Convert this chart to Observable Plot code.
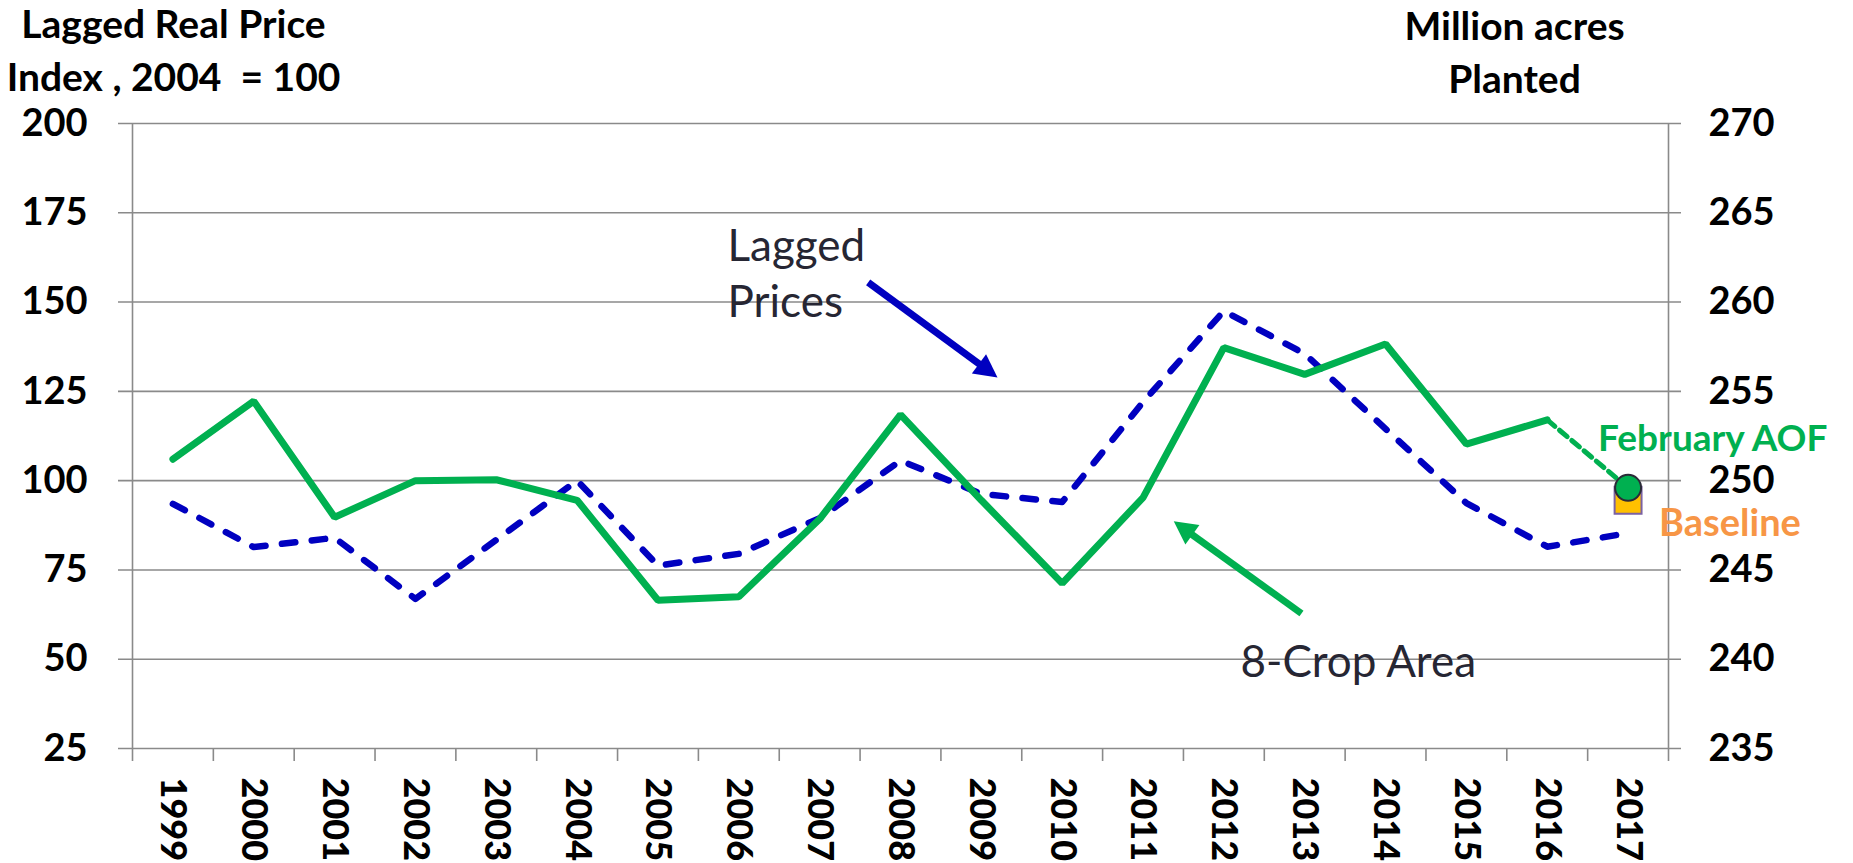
<!DOCTYPE html>
<html>
<head>
<meta charset="utf-8">
<script src="https://cdn.jsdelivr.net/npm/d3@7"></script>
<script src="https://cdn.jsdelivr.net/npm/@observablehq/plot@0.6"></script>
<style>
  html, body { margin: 0; padding: 0; background: #fff; }
  #chart svg { display: block; }
</style>
</head>
<body>
<div id="chart"></div>
<script>
// ---- data ----
const years = [1999, 2000, 2001, 2002, 2003, 2004, 2005, 2006, 2007, 2008, 2009, 2010, 2011, 2012, 2013, 2014, 2015, 2016, 2017];
// Lagged real price index (2004 = 100), left axis
const laggedPrice = [93.5, 81.4, 84.0, 66.9, 83.4, 100.0, 76.2, 79.5, 89.5, 105.6, 96.3, 94.0, 122.0, 147.5, 135.5, 114.5, 93.7, 81.5, 85.3];
// 8-crop planted area, million acres, right axis (1999-2016)
const cropAreaYears = [1999, 2000, 2001, 2002, 2003, 2004, 2005, 2006, 2007, 2008, 2009, 2010, 2011, 2012, 2013, 2014, 2015, 2016];
const cropArea = [251.2, 254.45, 247.95, 250.0, 250.05, 248.9, 243.3, 243.5, 247.85, 253.7, 248.9, 244.25, 249.05, 257.45, 255.95, 257.65, 252.05, 253.4];
// 2017 points
const outlookYear = 2017;
const februaryAOF = 249.6;
const baselineArea = 248.9;
// tick labels
const leftTicks = [25, 50, 75, 100, 125, 150, 175, 200];
const rightTicks = [235, 240, 245, 250, 255, 260, 265, 270];
const leftTitle = "Lagged Real Price\nIndex , 2004  = 100";
const rightTitle = "Million acres\nPlanted";

// ---- layout ----
const W = 1853, H = 863;
const mL = 132, mR = 185, mT = 123, mB = 115;
const xDomain = [years[0] - 0.5, years[years.length - 1] + 0.5];
const leftDomain = [leftTicks[0], leftTicks[leftTicks.length - 1]];
const rightDomain = [rightTicks[0], rightTicks[rightTicks.length - 1]];
const k = (leftDomain[1] - leftDomain[0]) / (rightDomain[1] - rightDomain[0]);
const toLeft = v => leftDomain[0] + (v - rightDomain[0]) * k;
const fromLeft = v => rightDomain[0] + (v - leftDomain[0]) / k;

const priceRows = years.map((year, i) => ({year, value: laggedPrice[i]}));
const areaRows = cropAreaYears.map((year, i) => ({year, value: cropArea[i]}));
const lastArea = areaRows[areaRows.length - 1];
const aofRows = [lastArea, {year: outlookYear, value: februaryAOF}];
const boundaries = years.map(y => y - 0.5).concat([years[years.length - 1] + 0.5]);

const GREEN = "#00B050", BLUE = "#0000C0", GRID = "#8a8a8a", ANNO = "#262633";

// arrows (annotation positions in data units: x = year, y = left axis)
const xS = Plot.scale({x: {domain: xDomain, range: [mL, W - mR]}});
const yS = Plot.scale({y: {domain: leftDomain, range: [H - mB, mT]}});
function arrowParts(a) {
  const px1 = xS.apply(a.x1), py1 = yS.apply(a.y1), px2 = xS.apply(a.x2), py2 = yS.apply(a.y2);
  const len = Math.hypot(px2 - px1, py2 - py1);
  const f = 14 / len;
  return {
    shaft: [{x1: a.x1, y1: a.y1, x2: a.x2 + (a.x1 - a.x2) * f, y2: a.y2 + (a.y1 - a.y2) * f}],
    head: [{x: a.x2, y: a.y2, angle: Math.atan2(px2 - px1, -(py2 - py1)) * 180 / Math.PI}]
  };
}
const priceArrow = arrowParts({x1: 2007.60, y1: 155.5, x2: 2009.20, y2: 128.9});
const areaArrow = arrowParts({x1: 2012.96, y1: 62.8, x2: 2011.38, y2: 88.6});
const triangleHead = {
  draw(ctx) { ctx.moveTo(0, 0); ctx.lineTo(12, 23); ctx.lineTo(-12, 23); ctx.closePath(); }
};

const chart = Plot.plot({
  width: W, height: H,
  marginLeft: mL, marginRight: mR, marginTop: mT, marginBottom: mB,
  style: {fontFamily: "Lato, 'Open Sans', sans-serif", background: "#fff", overflow: "visible"},
  x: {domain: xDomain},
  y: {domain: leftDomain},
  marks: [
    // gridlines (with outward tick extensions on both sides)
    Plot.ruleY(leftTicks, {stroke: GRID, strokeWidth: 1.6, insetLeft: -14, insetRight: -13}),
    // left & right axis lines
    Plot.ruleX([xDomain[0], xDomain[1]], {stroke: GRID, strokeWidth: 1.6}),
    // category boundary tick marks
    Plot.ruleX(boundaries, {x: d => d, y1: leftDomain[0], y2: leftDomain[0], insetBottom: -13, stroke: GRID, strokeWidth: 1.6}),
    // axes labels
    Plot.axisY(leftTicks, {anchor: "left", tickSize: 0, tickPadding: 45, fontSize: 38, fontWeight: "bold", fill: "#000", label: null}),
    Plot.axisY(rightTicks.map(toLeft), {anchor: "right", tickSize: 0, tickPadding: 40, fontSize: 38, fontWeight: "bold", fill: "#000", label: null,
      tickFormat: d => String(Math.round(fromLeft(d)))}),
    Plot.axisX(years, {anchor: "bottom", tickSize: 0, tickPadding: 29, tickRotate: 90, fontSize: 36, fontWeight: 900, fill: "#000", label: null,
      tickFormat: d => String(d)}),
    // axis titles
    Plot.text([leftTitle], {text: d => d, frameAnchor: "top-left", dx: 41, dy: -33, lineAnchor: "bottom", lineHeight: 1.35,
      textAnchor: "middle", fontSize: 39, fontWeight: "bold", fill: "#000"}),
    Plot.text([rightTitle], {text: d => d, frameAnchor: "top-right", dx: -154, dy: -31, lineAnchor: "bottom", lineHeight: 1.35,
      textAnchor: "middle", fontSize: 39, fontWeight: "bold", fill: "#000"}),
    // series
    Plot.line(priceRows, {x: "year", y: "value", stroke: BLUE, strokeWidth: 6.5, strokeDasharray: "13.5,16.5", strokeLinecap: "round", strokeLinejoin: "round"}),
    Plot.line(aofRows, {x: "year", y: d => toLeft(d.value), stroke: GREEN, strokeWidth: 5, strokeDasharray: "10,6"}),
    Plot.line(areaRows, {x: "year", y: d => toLeft(d.value), stroke: GREEN, strokeWidth: 7, strokeLinejoin: "miter"}),
    Plot.dot([{year: outlookYear, value: baselineArea}], {x: "year", y: d => toLeft(d.value), symbol: "square", r: 15.2, fill: "#FFC000", stroke: "#7B62A3", strokeWidth: 2}),
    Plot.dot([{year: outlookYear, value: februaryAOF}], {x: "year", y: d => toLeft(d.value), r: 13, fill: GREEN, stroke: "#2b2b38", strokeWidth: 2}),
    // point labels
    Plot.text([{year: outlookYear, value: februaryAOF}], {x: "year", y: d => toLeft(d.value), text: () => "February AOF",
      textAnchor: "start", lineAnchor: "bottom", dx: -30, dy: -37, fontSize: 37, fontWeight: "bold", fill: GREEN}),
    Plot.text([{year: outlookYear, value: baselineArea}], {x: "year", y: d => toLeft(d.value), text: () => "Baseline",
      textAnchor: "start", lineAnchor: "bottom", dx: 31, dy: 36, fontSize: 38, fontWeight: "bold", fill: "#F79646"}),
    // annotations
    Plot.text(["Lagged\nPrices"], {x: () => 2005.86, y: () => 145.7, text: d => d, textAnchor: "start", lineAnchor: "bottom",
      lineHeight: 1.273, fontSize: 44, fill: ANNO}),
    Plot.text(["8-Crop Area"], {x: () => 2012.206, y: () => 45.16, text: d => d, textAnchor: "start", lineAnchor: "bottom",
      fontSize: 44, fill: ANNO}),
    Plot.link(priceArrow.shaft, {x1: "x1", y1: "y1", x2: "x2", y2: "y2", stroke: BLUE, strokeWidth: 7}),
    Plot.dot(priceArrow.head, {x: "x", y: "y", rotate: "angle", symbol: triangleHead, r: 12, fill: BLUE, stroke: "none"}),
    Plot.link(areaArrow.shaft, {x1: "x1", y1: "y1", x2: "x2", y2: "y2", stroke: GREEN, strokeWidth: 7}),
    Plot.dot(areaArrow.head, {x: "x", y: "y", rotate: "angle", symbol: triangleHead, r: 12, fill: GREEN, stroke: "none"})
  ]
});
document.getElementById("chart").appendChild(chart);
</script>
</body>
</html>
